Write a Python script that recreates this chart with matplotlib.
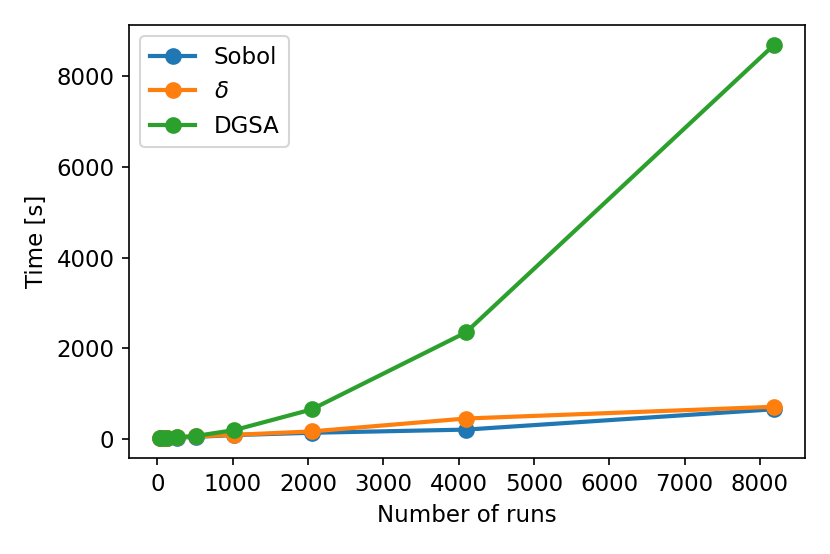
import matplotlib
matplotlib.use('Agg')
import matplotlib.pyplot as plt
from matplotlib.ticker import MultipleLocator

# число прогонов и время расчёта
runs = [32, 64, 128, 256, 512, 1024, 2048, 4096, 8192]
t_sobol = [8, 10, 14, 20, 40, 80, 130, 200, 650]
t_delta = [10, 14, 20, 30, 50, 85, 160, 445, 705]
t_dgsa = [10, 15, 20, 30, 60, 190, 645, 2345, 8700]

plt.rcParams['font.size'] = 11

fig = plt.figure(figsize=(830 / 150, 554 / 150), dpi=150)
ax = fig.add_axes([0.1554, 0.1733, 0.8145, 0.7816])

ax.plot(runs, t_sobol, marker='o', lw=2, ms=7, label='Sobol')
ax.plot(runs, t_delta, marker='o', lw=2, ms=7, label=r'$\delta$')
ax.plot(runs, t_dgsa, marker='o', lw=2, ms=7, label='DGSA')

ax.xaxis.set_major_locator(MultipleLocator(1000))
ax.set_xlabel('Number of runs')
ax.set_ylabel('Time [s]')
ax.legend()

fig.savefig('out.png', dpi=150)
